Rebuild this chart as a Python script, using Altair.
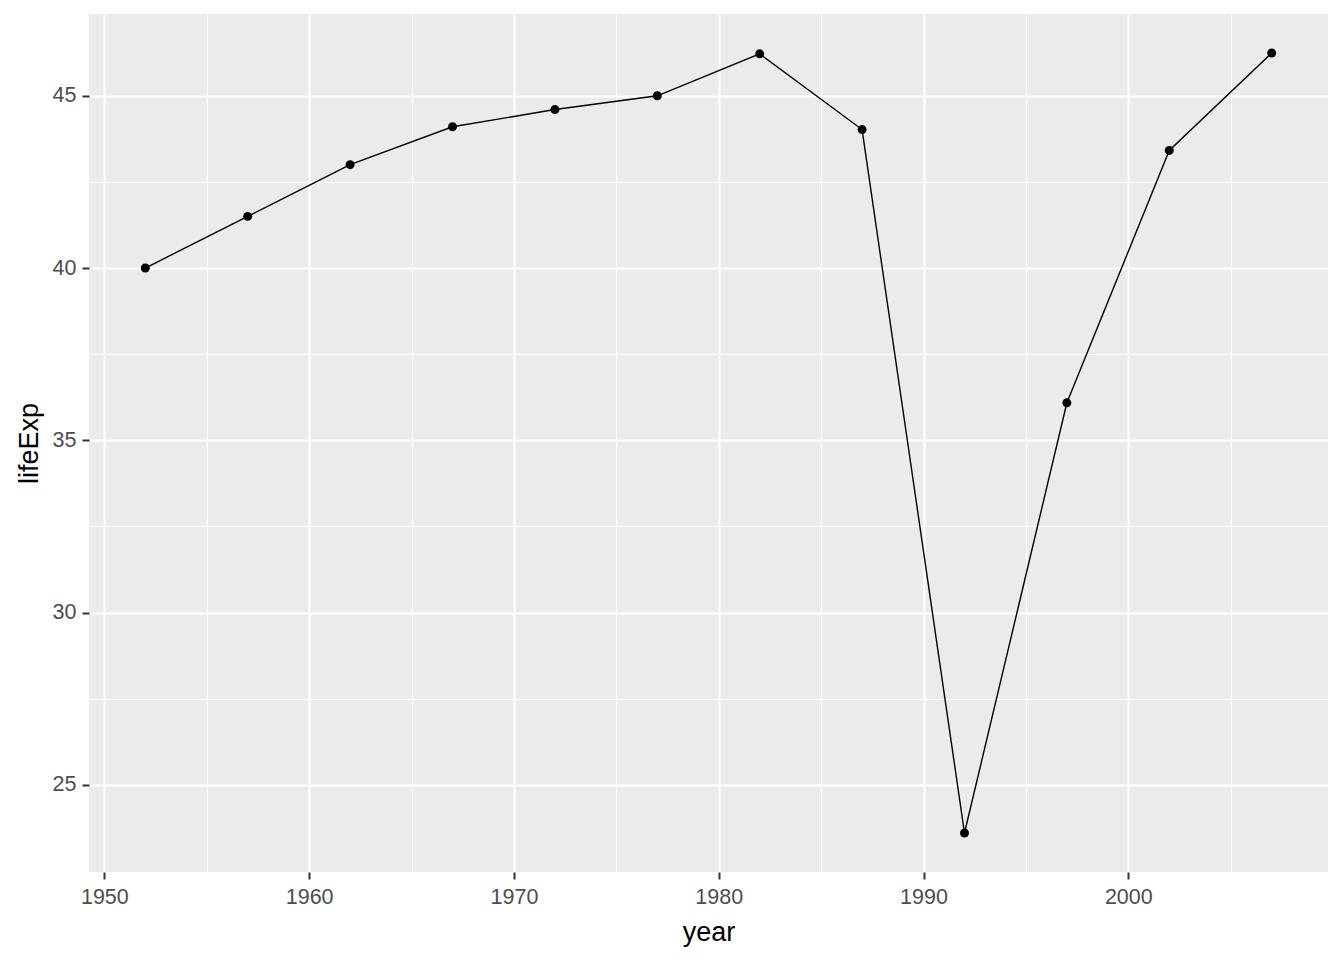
import altair as alt
import pandas as pd

years = [1952, 1957, 1962, 1967, 1972, 1977, 1982, 1987, 1992, 1997, 2002, 2007]
life_exp = [40.000, 41.500, 43.000, 44.100, 44.600, 45.000, 46.218, 44.020, 23.599, 36.087, 43.413, 46.242]

x_grid = [1950, 1955, 1960, 1965, 1970, 1975, 1980, 1985, 1990, 1995, 2000, 2005]
y_grid = [25, 27.5, 30, 32.5, 35, 37.5, 40, 42.5, 45]

df = pd.DataFrame({"year": years, "lifeExp": life_exp})

xr = max(years) - min(years)
yr = max(life_exp) - min(life_exp)
x_dom = [min(years) - 0.05 * xr, max(years) + 0.05 * xr]
y_dom = [min(life_exp) - 0.05 * yr, max(life_exp) + 0.05 * yr]

font = "Liberation Sans"

def axis(values, major_test, label_pad, title_pad):
    return alt.Axis(
        values=values,
        format="d",
        grid=True,
        gridColor="white",
        gridWidth={"condition": {"test": major_test, "value": 2.1}, "value": 1.0},
        labelExpr=f"({major_test}) ? datum.label : ''",
        tickOpacity={"condition": {"test": major_test, "value": 1}, "value": 0},
        tickColor="#333333",
        tickSize=7,
        tickWidth=2,
        domain=False,
        labelColor="#4D4D4D",
        labelFontSize=21.5,
        labelFont=font,
        labelPadding=label_pad,
        titleFont=font,
        titleFontSize=27,
        titleFontWeight="normal",
        titleColor="black",
        titlePadding=title_pad,
    )

x = alt.X("year:Q", scale=alt.Scale(domain=x_dom, nice=False, zero=False),
          axis=axis(x_grid, "datum.value % 10 === 0", 7, 12))
y = alt.Y("lifeExp:Q", scale=alt.Scale(domain=y_dom, nice=False, zero=False),
          axis=axis(y_grid, "datum.value % 5 === 0", 6, 9))

base = alt.Chart(df).encode(x=x, y=y)
line = base.mark_line(color="black", strokeWidth=1.4)
pts = base.mark_point(filled=True, color="black", size=80, opacity=1)

chart = (line + pts).properties(
    width=1239, height=858,
    autosize=alt.AutoSizeParams(type="none"),
    padding={"left": 81, "top": 6, "right": 8, "bottom": 80},
    background="white",
).configure_view(fill="#EBEBEB", stroke=None)

chart.save("out.html", embed_options={"renderer": "svg", "actions": False})
